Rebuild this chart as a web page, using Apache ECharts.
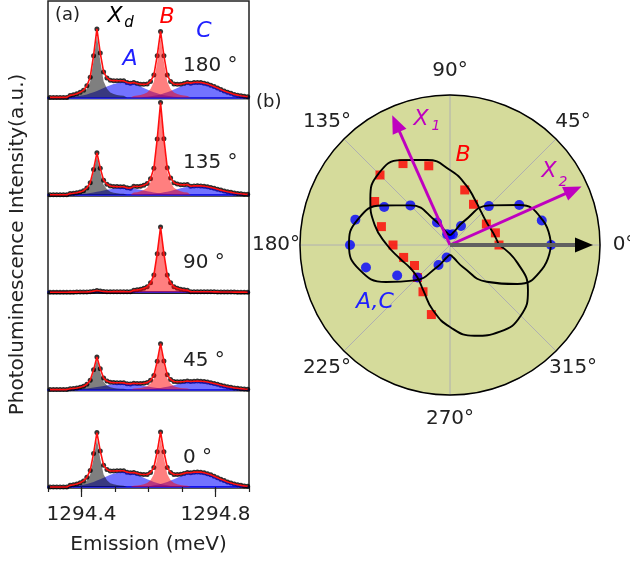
<!DOCTYPE html>
<html>
<head>
<meta charset="utf-8">
<script src="https://cdn.jsdelivr.net/npm/echarts@6.0.0/dist/echarts.min.js"></script>
<style>
html, body { margin: 0; padding: 0; background: #fff; }
#main { width: 630px; height: 563px; }
</style>
</head>
<body>
<div id="main"></div>
<script>
// ---- (a) spectra ----
var energy = [1294.306,1294.316,1294.326,1294.336,1294.346,1294.356,1294.366,1294.376,1294.386,1294.396,
  1294.406,1294.416,1294.426,1294.436,1294.446,1294.456,1294.466,1294.476,1294.486,1294.496,
  1294.506,1294.516,1294.526,1294.536,1294.546,1294.556,1294.566,1294.576,1294.586,1294.596,
  1294.606,1294.616,1294.626,1294.636,1294.646,1294.656,1294.666,1294.676,1294.686,1294.696,
  1294.706,1294.716,1294.726,1294.736,1294.746,1294.756,1294.766,1294.776,1294.786,1294.796,
  1294.806,1294.816,1294.826,1294.836,1294.846,1294.856,1294.866,1294.876,1294.886,1294.896];
var panelLabels = ['180 \u00b0', '135 \u00b0', '90 \u00b0', '45 \u00b0', '0 \u00b0'];

// peak energies
var xdPeak = 1294.446, bPeak = 1294.636, aPeak = 1294.526, cPeak = 1294.746;
// line shapes (relative height, one value per energy step)
var narrowProfile = [0.025, 0.03, 0.04, 0.055, 0.08, 0.14, 0.26, 0.59, 1, 0.59, 0.26, 0.14, 0.08, 0.055, 0.04, 0.03, 0.025];
var broadProfile = [0.03, 0.05, 0.075, 0.11, 0.15, 0.2, 0.27, 0.34, 0.43, 0.52, 0.62, 0.72, 0.81, 0.89, 0.95, 0.99, 1,
  0.99, 0.95, 0.89, 0.81, 0.72, 0.62, 0.52, 0.43, 0.34, 0.27, 0.2, 0.15, 0.11, 0.075, 0.05, 0.03];
// peak heights per panel (180, 135, 90, 45, 0 deg)
var xdHeight = [62, 39, 1.5, 30, 48];
var bHeight = [60, 89, 65, 43, 49];
var aHeight = [15, 7, 0.5, 6, 15];
var cHeight = [15, 9, 0.5, 8.5, 15];

// ---- (b) polar ----
var angleTicks = [0, 45, 90, 135, 180, 225, 270, 315];
var dataAngles = [0, 15, 30, 45, 60, 75, 90, 105, 120, 135, 150, 165, 180, 195, 210, 225, 240, 255];
var acRadius = [101, 95, 80, 55, 22, 11, 10, 11, 26, 56, 76, 98, 100, 87, 61, 46, 23, 13];
var bRadius = [49, 47, 42, null, 47, 57, null, 82, 94, 99, 87, 71, 57, 48, 41, 46, 54, 72];
var fitAngles = [0, 15, 30, 45, 60, 75, 90, 105, 120, 135, 150, 165, 180, 195, 210, 225, 240, 255, 270, 285, 300, 315, 330, 345, 360];
var acFit = [101, 96, 80, 56, 27, 13, 10, 13, 27, 56, 79, 96, 101, 94, 74, 50, 25, 13, 10, 13, 25, 52, 78, 95, 101];
var bFit = [49, 45, 43, 45, 51, 62, 75, 88, 98, 101, 92, 78, 63, 52, 46, 46, 53, 67, 82, 94, 100, 100, 90, 70, 49];
var arrowAngles = [114, 24, 0];
var arrowLength = [133, 135, 134];

var myChart = echarts.init(document.getElementById('main'));
var font = 'DejaVu Sans';

function component(profile, peak, height) {
    var c = energy.indexOf(peak);
    var half = (profile.length - 1) / 2;
    return energy.map(function (e, k) {
        var j = k - c + half;
        return (j >= 0 && j < profile.length) ? profile[j] * height : 0;
    });
}

var grids = [], xAxes = [], yAxes = [], series = [];
var panelTop = 1, panelH = 97.4;

for (var i = 0; i < 5; i++) {
    grids.push({left: 48, width: 201, top: panelTop + panelH * i, height: panelH,
        show: true, borderColor: '#222', borderWidth: 1.5, backgroundColor: 'transparent'});
    var last = (i === 4);
    xAxes.push({
        type: 'value', gridIndex: i, min: 1294.3, max: 1294.9, interval: 0.1, position: 'bottom',
        axisLine: {show: true, onZero: true, lineStyle: {color: '#2a2ad8', width: 2}},
        axisTick: {show: last, length: 5, lineStyle: {color: '#222', width: 1.2}},
        axisLabel: {show: last, margin: 17, fontSize: 20, fontFamily: font, color: '#222',
            formatter: function (v) {
                if (Math.abs(v - 1294.4) < 1e-6) return '1294.4';
                if (Math.abs(v - 1294.8) < 1e-6) return '1294.8';
                return '';
            }},
        splitLine: {show: false},
        name: last ? 'Emission (meV)' : '',
        nameLocation: 'middle', nameGap: 47,
        nameTextStyle: {fontSize: 20, fontFamily: font, color: '#222'}
    });
    yAxes.push({
        type: 'value', gridIndex: i, min: -1, max: panelH - 1,
        axisLine: {show: false}, axisTick: {show: false}, axisLabel: {show: false},
        splitLine: {show: false},
        name: i === 2 ? 'Photoluminescence Intensity(a.u.)' : '',
        nameLocation: 'middle', nameGap: 20,
        nameTextStyle: {fontSize: 20, fontFamily: font, color: '#222'}
    });

    var xd = component(narrowProfile, xdPeak, xdHeight[i]);
    var b = component(narrowProfile, bPeak, bHeight[i]);
    var a = component(broadProfile, aPeak, aHeight[i]);
    var c = component(broadProfile, cPeak, cHeight[i]);
    var total = energy.map(function (e, k) { return [e, xd[k] + b[k] + a[k] + c[k]]; });

    var fills = [[a, 'rgba(0,0,255,0.55)'], [c, 'rgba(0,0,255,0.55)'],
                 [xd, 'rgba(0,0,0,0.5)'], [b, 'rgba(255,0,0,0.5)']];
    fills.forEach(function (f) {
        series.push({
            type: 'line', xAxisIndex: i, yAxisIndex: i, showSymbol: false, silent: true,
            data: energy.map(function (e, k) { return [e, f[0][k]]; }),
            lineStyle: {width: 0, opacity: 0},
            areaStyle: {color: f[1], opacity: 1}
        });
    });
    series.push({
        type: 'line', xAxisIndex: i, yAxisIndex: i, showSymbol: false,
        lineStyle: {color: '#ff1010', width: 1.6}, data: total
    });
    series.push({
        type: 'scatter', xAxisIndex: i, yAxisIndex: i, symbolSize: 5,
        itemStyle: {color: '#000'}, data: total
    });
}

// longer ticks at the labelled energies
xAxes.push({
    type: 'value', gridIndex: 4, min: 1294.3, max: 1294.9, position: 'bottom',
    axisLine: {show: false},
    axisTick: {show: true, length: 9, customValues: [1294.4, 1294.8], lineStyle: {color: '#222', width: 1.2}},
    axisLabel: {show: false}, splitLine: {show: false}
});

// polar series
series.push({
    type: 'line', coordinateSystem: 'polar', smooth: true, showSymbol: false,
    lineStyle: {color: '#000', width: 1.9},
    data: fitAngles.map(function (t, k) { return [acFit[k], t]; })
});
series.push({
    type: 'line', coordinateSystem: 'polar', smooth: true, showSymbol: false,
    lineStyle: {color: '#000', width: 1.9},
    data: fitAngles.map(function (t, k) { return [bFit[k], t]; })
});
arrowAngles.forEach(function (t, k) {
    var col = k < 2 ? '#bf00bf' : '#606060';
    var head = k < 2 ? '#bf00bf' : '#000';
    series.push({
        type: 'line', coordinateSystem: 'polar', symbol: 'none',
        lineStyle: {color: col, width: k < 2 ? 3 : 4},
        data: [[0, t], {value: [arrowLength[k], t], symbol: 'triangle', symbolSize: [15, 18],
            symbolRotate: t - 90, itemStyle: {color: head}}]
    });
});
series.push({
    type: 'scatter', coordinateSystem: 'polar', symbol: 'rect', symbolSize: 9,
    itemStyle: {color: '#ff0000'},
    data: dataAngles.map(function (t, k) { return bRadius[k] == null ? null : [bRadius[k], t]; }).filter(Boolean)
});
series.push({
    type: 'scatter', coordinateSystem: 'polar', symbol: 'circle', symbolSize: 10,
    itemStyle: {color: '#0000ff'},
    data: dataAngles.map(function (t, k) { return [acRadius[k], t]; })
});

function txt(s, x, y, size, color, italic, align) {
    return {type: 'text', x: x, y: y, z: 100, silent: true,
        style: {text: s, fill: color, font: (italic ? 'italic ' : '') + size + 'px "DejaVu Sans"',
            textAlign: align || 'center', textVerticalAlign: 'middle'}};
}

var graphics = [
    txt('(a)', 55, 15, 18, '#222', false, 'left'),
    txt('X', 115, 16, 22, '#000', true),
    txt('d', 129, 23, 15, '#000', true),
    txt('B', 167, 17, 22, '#ff0000', true),
    txt('C', 204, 31, 22, '#2020ff', true),
    txt('A', 130, 59, 22, '#2020ff', true),
    txt('(b)', 256, 102, 18, '#222', false, 'left'),
    txt('X', 421, 119, 22, '#bf00bf', true),
    txt('1', 436, 126, 14, '#bf00bf', true),
    txt('X', 549, 171, 22, '#bf00bf', true),
    txt('2', 563, 182, 14, '#bf00bf', true),
    txt('B', 463, 155, 22, '#ff0000', true),
    txt('A,C', 375, 302, 22, '#2020ff', true)
];
var labelY = [66, 163, 263, 361, 458];
panelLabels.forEach(function (s, k) {
    graphics.push(txt(s, 183, labelY[k], 20, '#222', false, 'left'));
});

var option = {
    animation: false,
    backgroundColor: '#fff',
    grid: grids,
    xAxis: xAxes,
    yAxis: yAxes,
    polar: {center: [450, 245], radius: 150},
    angleAxis: {
        type: 'value', min: 0, max: 360, interval: 45, startAngle: 0, clockwise: false,
        axisLine: {lineStyle: {color: '#000', width: 1.5}},
        axisTick: {show: false},
        axisLabel: {show: false},
        splitLine: {show: true, lineStyle: {color: '#b0b0b0', width: 1}}
    },
    radiusAxis: {
        type: 'value', min: 0, max: 150, interval: 50,
        axisLine: {show: false}, axisTick: {show: false}, axisLabel: {show: false},
        splitLine: {show: true, lineStyle: {color: '#b0b0b0', width: 1}},
        splitArea: {show: true, areaStyle: {color: ['#d5db9b']}}
    },
    graphic: graphics,
    series: series
};

myChart.setOption(option);

// angle labels centred a fixed distance outside the rim, like the original
angleTicks.forEach(function (t) {
    var p = myChart.convertToPixel({polarIndex: 0}, [174, t]);
    graphics.push(txt(t + '\u00b0', p[0], p[1], 20, '#222', false, 'center'));
});
myChart.setOption({graphic: graphics});
</script>
</body>
</html>
